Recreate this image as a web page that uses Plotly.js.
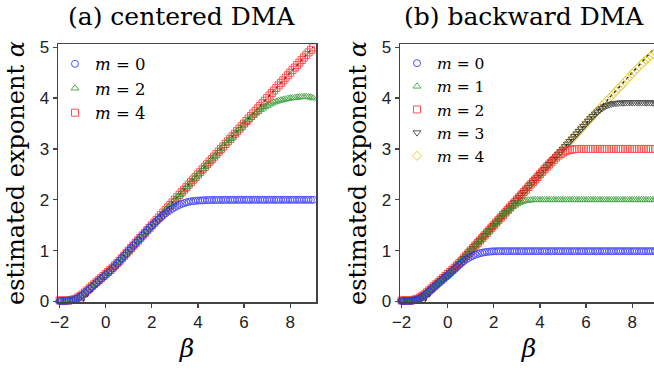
<!DOCTYPE html>
<html><head><meta charset="utf-8">
<script src="https://cdn.plot.ly/plotly-3.0.1.min.js"></script>
<style>html,body{margin:0;padding:0;overflow:hidden;background:#fff;width:654px;height:373px}#chart{width:660px;height:373px}</style>
</head><body><div id="chart"></div><script>
// ---- data ----
const betaGrid = [-2.0,-1.9,-1.8,-1.7,-1.6,-1.5,-1.4,-1.3,-1.2,-1.1,
 -1.0,-0.9,-0.8,-0.7,-0.6,-0.5,-0.4,-0.3,-0.2,-0.1,
 0.0,0.1,0.2,0.3,0.4,0.5,0.6,0.7,0.8,0.9,
 1.0,1.1,1.2,1.3,1.4,1.5,1.6,1.7,1.8,1.9,
 2.0,2.1,2.2,2.3,2.4,2.5,2.6,2.7,2.8,2.9,
 3.0,3.1,3.2,3.3,3.4,3.5,3.6,3.7,3.8,3.9,
 4.0,4.1,4.2,4.3,4.4,4.5,4.6,4.7,4.8,4.9,
 5.0,5.1,5.2,5.3,5.4,5.5,5.6,5.7,5.8,5.9,
 6.0,6.1,6.2,6.3,6.4,6.5,6.6,6.7,6.8,6.9,
 7.0,7.1,7.2,7.3,7.4,7.5,7.6,7.7,7.8,7.9,
 8.0,8.1,8.2,8.3,8.4,8.5,8.6,8.7,8.8,8.9,9.0];

// (a) centered DMA
const cenM0 = [0.01,0.01,0.01,0.01,0.02,0.02,0.03,0.05,0.07,0.10,
 0.13,0.17,0.21,0.25,0.29,0.33,0.37,0.41,0.45,0.49,
 0.53,0.57,0.61,0.655,0.70,0.75,0.80,0.85,0.90,0.95,
 1.00,1.05,1.10,1.15,1.20,1.25,1.30,1.35,1.40,1.45,
 1.49,1.535,1.58,1.62,1.66,1.70,1.735,1.77,1.80,1.83,
 1.855,1.88,1.90,1.92,1.935,1.95,1.96,1.97,1.975,1.98,
 1.985,1.988,1.99,1.992,1.994,1.995,1.996,1.996,1.997,1.997,
 1.998,1.998,1.998,1.998,1.999,1.999,1.999,1.999,2.0,2.0,
 2.0,2.0,2.0,2.0,2.0,2.0,2.0,2.0,2.0,2.0,
 2.0,2.0,2.0,2.0,2.0,2.0,2.0,2.0,2.0,2.0,
 2.0,2.0,2.0,2.0,2.0,2.0,2.0,2.0,2.0,2.0,2.0];
const cenM2 = [0.02,0.02,0.02,0.02,0.03,0.03,0.04,0.06,0.08,0.11,
 0.14,0.18,0.22,0.26,0.30,0.34,0.38,0.42,0.46,0.50,
 0.54,0.58,0.62,0.66,0.70,0.75,0.80,0.85,0.90,0.95,
 1.00,1.05,1.10,1.15,1.20,1.25,1.30,1.35,1.40,1.45,
 1.50,1.55,1.60,1.65,1.70,1.75,1.80,1.85,1.90,1.95,
 2.00,2.05,2.10,2.15,2.20,2.25,2.30,2.35,2.40,2.45,
 2.50,2.55,2.60,2.65,2.70,2.75,2.80,2.85,2.90,2.95,
 3.00,3.06,3.11,3.16,3.20,3.25,3.30,3.35,3.40,3.45,
 3.49,3.535,3.58,3.62,3.66,3.70,3.735,3.77,3.80,3.83,
 3.855,3.88,3.90,3.92,3.935,3.95,3.96,3.97,3.98,3.99,
 4.00,4.005,4.01,4.015,4.02,4.025,4.028,4.03,4.025,4.015,4.00];
const cenM4 = [0.02,0.02,0.02,0.02,0.02,0.03,0.04,0.05,0.08,0.11,
 0.14,0.18,0.22,0.26,0.30,0.34,0.38,0.42,0.46,0.50,
 0.54,0.58,0.62,0.665,0.71,0.755,0.80,0.85,0.90,0.95,
 1.00,1.05,1.10,1.15,1.20,1.25,1.30,1.35,1.40,1.45,
 1.50,1.55,1.60,1.65,1.70,1.75,1.80,1.85,1.90,1.95,
 2.00,2.05,2.10,2.15,2.20,2.25,2.30,2.35,2.40,2.45,
 2.50,2.55,2.60,2.65,2.70,2.75,2.80,2.85,2.90,2.95,
 3.00,3.05,3.10,3.15,3.20,3.25,3.30,3.35,3.40,3.45,
 3.50,3.55,3.60,3.65,3.70,3.75,3.80,3.85,3.90,3.95,
 4.00,4.05,4.10,4.15,4.20,4.25,4.30,4.35,4.40,4.45,
 4.50,4.55,4.60,4.65,4.70,4.75,4.80,4.85,4.90,4.95,5.00];

// (b) backward DMA
const bwdM0 = [0.01,0.01,0.01,0.01,0.01,0.02,0.03,0.04,0.06,0.09,
 0.12,0.16,0.20,0.24,0.28,0.32,0.36,0.40,0.44,0.48,
 0.51,0.555,0.60,0.64,0.68,0.72,0.76,0.795,0.83,0.855,
 0.88,0.90,0.92,0.935,0.95,0.96,0.97,0.975,0.98,0.985,
 0.987,0.988,0.99,0.99,0.99,0.99,0.99,0.99,0.99,0.99,
 0.99,0.99,0.99,0.99,0.99,0.99,0.99,0.99,0.99,0.99,
 0.99,0.99,0.99,0.99,0.99,0.99,0.99,0.99,0.99,0.99,
 0.99,0.99,0.99,0.99,0.99,0.99,0.99,0.99,0.99,0.99,
 0.99,0.99,0.99,0.99,0.99,0.99,0.99,0.99,0.99,0.99,
 0.99,0.99,0.99,0.99,0.99,0.99,0.99,0.99,0.99,0.99,
 0.99,0.99,0.99,0.99,0.99,0.99,0.99,0.99,0.99,0.99,0.99];
const bwdM1 = [0.02,0.02,0.02,0.02,0.02,0.03,0.04,0.05,0.07,0.10,
 0.13,0.17,0.21,0.25,0.29,0.33,0.37,0.41,0.45,0.49,
 0.53,0.57,0.61,0.655,0.70,0.75,0.80,0.85,0.90,0.95,
 1.00,1.05,1.10,1.15,1.20,1.25,1.30,1.35,1.40,1.45,
 1.50,1.55,1.60,1.65,1.695,1.74,1.78,1.82,1.86,1.89,
 1.92,1.945,1.96,1.975,1.985,1.99,1.995,2.0,2.0,2.0,
 2.0,2.0,2.0,2.0,2.0,2.0,2.0,2.0,2.0,2.0,
 2.0,2.0,2.0,2.0,2.0,2.0,2.0,2.0,2.0,2.0,
 2.0,2.0,2.0,2.0,2.0,2.0,2.0,2.0,2.0,2.0,
 2.0,2.0,2.0,2.0,2.0,2.0,2.0,2.0,2.0,2.0,
 2.0,2.0,2.0,2.0,2.0,2.0,2.0,2.0,2.0,2.0,2.0];
const bwdM2 = [0.02,0.02,0.02,0.02,0.02,0.03,0.04,0.05,0.08,0.11,
 0.14,0.18,0.22,0.26,0.30,0.34,0.38,0.42,0.46,0.50,
 0.54,0.58,0.62,0.665,0.71,0.755,0.80,0.85,0.90,0.95,
 1.00,1.05,1.10,1.15,1.20,1.25,1.30,1.35,1.40,1.45,
 1.50,1.55,1.60,1.65,1.70,1.75,1.80,1.85,1.90,1.95,
 2.00,2.05,2.10,2.15,2.20,2.25,2.30,2.35,2.40,2.45,
 2.50,2.55,2.60,2.65,2.695,2.74,2.785,2.83,2.87,2.90,
 2.93,2.955,2.97,2.98,2.99,2.995,3.0,3.0,3.0,3.0,
 3.0,3.0,3.0,3.0,3.0,3.0,3.0,3.0,3.0,3.0,
 3.0,3.0,3.0,3.0,3.0,3.0,3.0,3.0,3.0,3.0,
 3.0,3.0,3.0,3.0,3.0,3.0,3.0,3.0,3.0,3.0,3.0];
const bwdM3 = [0.01,0.01,0.02,0.02,0.02,0.03,0.04,0.05,0.07,0.10,
 0.13,0.17,0.21,0.25,0.29,0.33,0.37,0.41,0.45,0.49,
 0.53,0.57,0.61,0.655,0.70,0.75,0.80,0.85,0.90,0.95,
 1.00,1.05,1.10,1.15,1.20,1.25,1.30,1.35,1.40,1.45,
 1.50,1.55,1.60,1.65,1.70,1.75,1.80,1.85,1.90,1.95,
 2.00,2.05,2.10,2.15,2.20,2.25,2.30,2.35,2.40,2.45,
 2.50,2.55,2.60,2.65,2.70,2.75,2.80,2.85,2.90,2.95,
 3.00,3.05,3.10,3.15,3.20,3.25,3.30,3.35,3.40,3.45,
 3.50,3.55,3.60,3.645,3.69,3.73,3.77,3.80,3.83,3.855,
 3.87,3.885,3.895,3.90,3.905,3.91,3.91,3.912,3.914,3.915,
 3.915,3.916,3.916,3.915,3.914,3.913,3.912,3.912,3.911,3.91,3.91];
const bwdM4 = [0.02,0.02,0.02,0.02,0.02,0.03,0.04,0.05,0.08,0.11,
 0.14,0.18,0.22,0.26,0.30,0.34,0.38,0.42,0.46,0.50,
 0.54,0.58,0.62,0.665,0.71,0.755,0.80,0.85,0.90,0.95,
 1.00,1.05,1.10,1.15,1.20,1.25,1.30,1.35,1.40,1.45,
 1.50,1.55,1.60,1.65,1.70,1.75,1.80,1.85,1.90,1.95,
 2.00,2.05,2.10,2.15,2.20,2.25,2.30,2.35,2.40,2.45,
 2.50,2.55,2.60,2.65,2.70,2.75,2.80,2.85,2.90,2.95,
 3.00,3.05,3.10,3.15,3.20,3.25,3.30,3.35,3.40,3.45,
 3.50,3.55,3.60,3.65,3.70,3.75,3.80,3.85,3.90,3.95,
 3.99,4.04,4.09,4.14,4.19,4.23,4.28,4.33,4.38,4.43,
 4.48,4.53,4.575,4.62,4.665,4.71,4.75,4.79,4.83,4.865,4.90];

// theoretical line alpha = (beta+1)/2
const theoryBeta = [-1, 9];
const theoryAlpha = [0, 5];

const xTickVals = [-2, 0, 2, 4, 6, 8];
const xTickText = ['\u22122', '0', '2', '4', '6', '8'];
const yTickVals = [0, 1, 2, 3, 4, 5];
const panelTitles = ['(a) centered DMA', '(b) backward DMA'];
const cenLabels = ['<i>m</i> = 0', '<i>m</i> = 2', '<i>m</i> = 4'];
const bwdLabels = ['<i>m</i> = 0', '<i>m</i> = 1', '<i>m</i> = 2', '<i>m</i> = 3', '<i>m</i> = 4'];

// ---- styling ----
const C = {blue:'rgb(40,40,255)', green:'rgb(40,150,40)', red:'rgb(255,40,40)', black:'rgb(40,40,40)', yellow:'rgb(225,195,20)'};
function mk(name, y, color, symbol, xa, ya, leg) {
  return {type:'scatter', mode:'markers', x: betaGrid, y: y, name: name, xaxis: xa, yaxis: ya,
    legend: leg, cliponaxis: false, opacity: 0.8,
    marker: {symbol: symbol, size: 7, color: color, line: {color: color, width: 1}}};
}
function theory(xa, ya) {
  return {type:'scatter', mode:'lines', x: theoryBeta, y: theoryAlpha, xaxis: xa, yaxis: ya,
    showlegend: false, hoverinfo: 'skip', line: {color: '#222', width: 1.5, dash: 'dot'}};
}
const traces = [
  theory('x', 'y'),
  mk(cenLabels[2], cenM4, C.red, 'square-open', 'x', 'y', 'legend'),
  mk(cenLabels[1], cenM2, C.green, 'triangle-up-open', 'x', 'y', 'legend'),
  mk(cenLabels[0], cenM0, C.blue, 'circle-open', 'x', 'y', 'legend'),
  theory('x2', 'y2'),
  mk(bwdLabels[4], bwdM4, C.yellow, 'diamond-open', 'x2', 'y2', 'legend2'),
  mk(bwdLabels[3], bwdM3, C.black, 'triangle-down-open', 'x2', 'y2', 'legend2'),
  mk(bwdLabels[2], bwdM2, C.red, 'square-open', 'x2', 'y2', 'legend2'),
  mk(bwdLabels[1], bwdM1, C.green, 'triangle-up-open', 'x2', 'y2', 'legend2'),
  mk(bwdLabels[0], bwdM0, C.blue, 'circle-open', 'x2', 'y2', 'legend2')
];

const serif = 'DejaVu Serif, Liberation Serif, serif';
const sans = 'Liberation Sans, Arial, sans-serif';
function xax(domain, anchor) {
  return {domain: domain, anchor: anchor, range: [-2.07, 9.12], tickmode: 'array', tickvals: xTickVals, ticktext: xTickText,
    ticks: 'outside', ticklen: 4, tickwidth: 1.3, tickcolor: '#444', showline: true, linecolor: '#444', linewidth: 1.5,
    mirror: true, showgrid: false, zeroline: false, tickfont: {family: sans, size: 17, color: '#222'},
    title: {text: '<i>β</i>', font: {family: serif, size: 25, color: '#000'}, standoff: 8}};
}
function yax(anchor) {
  return {anchor: anchor, range: [-0.01, 5.065], tickmode: 'array', tickvals: yTickVals,
    ticks: 'outside', ticklen: 4, tickwidth: 1.3, tickcolor: '#444', showline: true, linecolor: '#444', linewidth: 1.5,
    mirror: true, showgrid: false, zeroline: false, tickfont: {family: sans, size: 17, color: '#222'},
    title: {text: 'estimated exponent <i>α</i>', font: {family: serif, size: 24, color: '#000'}, standoff: 8}};
}
function leg(x, y, size) {
  return {x: x, y: y, xanchor: 'left', yanchor: 'top', bgcolor: 'rgba(0,0,0,0)', traceorder: 'reversed',
    font: {family: serif, size: size, color: '#000'}, itemwidth: 30};
}
const layout = {
  width: 660, height: 373, margin: {l: 58, r: 2, t: 44, b: 71},
  paper_bgcolor: '#fff', plot_bgcolor: '#fff', showlegend: true,
  xaxis: xax([0, 0.43], 'y'), yaxis: yax('x'),
  xaxis2: xax([0.57, 1], 'y2'), yaxis2: yax('x2'),
  legend: leg(-0.005, 0.99, 16.5), legend2: leg(0.565, 0.99, 15.5),
  annotations: [
    {text: panelTitles[0], xref: 'x domain', yref: 'paper', x: 0.48, y: 1.105, xanchor: 'center', yanchor: 'middle', showarrow: false, font: {family: serif, size: 25, color: '#000'}},
    {text: panelTitles[1], xref: 'x2 domain', yref: 'paper', x: 0.479, y: 1.105, xanchor: 'center', yanchor: 'middle', showarrow: false, font: {family: serif, size: 25, color: '#000'}}
  ]
};
Plotly.newPlot('chart', traces, layout, {displayModeBar: false, staticPlot: true});
</script></body></html>
